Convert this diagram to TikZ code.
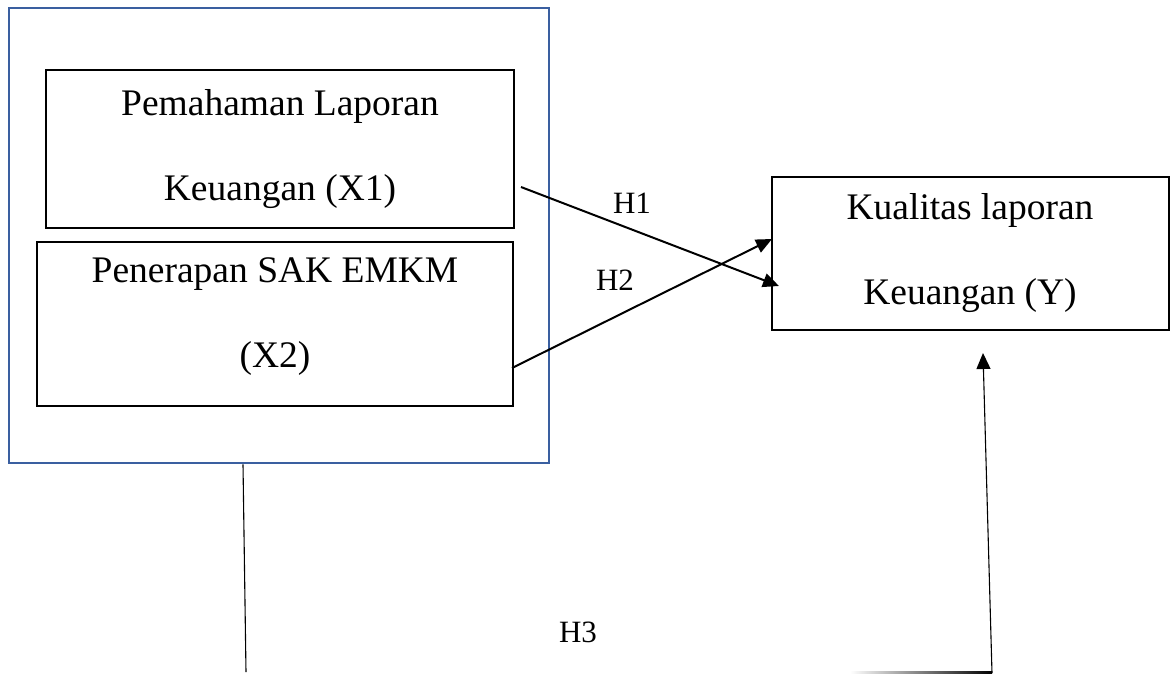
\documentclass[tikz,border=0pt]{standalone}
\usepackage{fontspec}
\setmainfont{Liberation Serif}
\usetikzlibrary{arrows.meta}
\definecolor{frameblue}{HTML}{3A5FA0}
\tikzset{
  varbox/.style={draw=black, line width=2pt, inner sep=0pt, align=center,
    font=\fontsize{37.5}{85}\selectfont},
  hlabel/.style={inner sep=0pt, font=\fontsize{31}{34}\selectfont},
  conn/.style={line width=2pt, -{Triangle[length=16pt,width=14pt]}},
  thinline/.style={line width=1.1pt}
}
\begin{document}
\begin{tikzpicture}[x=1pt,y=-1pt]
\useasboundingbox (0,0) rectangle (1171,675);
% outer frame
\node[draw=frameblue, line width=2.6pt, minimum width=540pt, minimum height=455pt, inner sep=0pt] (outer) at (279,235.5) {};
% boxes
\node[varbox, minimum width=468pt, minimum height=158pt] (x1) at (280,149) {Pemahaman Laporan\\Keuangan (X1)};
\node[varbox, minimum width=476pt, minimum height=164pt] (x2) at (275,324) {Penerapan SAK EMKM\\(X2)\\[-63pt]\mbox{}};
\node[varbox, minimum width=397pt, minimum height=153pt] (y) at (970,253.5) {Kualitas laporan\\Keuangan (Y)};
% labels
\node[hlabel] (h1) at (632,203) {H1};
\node[hlabel] (h2) at (615,280) {H2};
\node[hlabel] (h3) at (578,632) {H3};
% connector ends
\coordinate (a1s) at (521,187);
\coordinate (a1e) at (779,286);
\coordinate (a2s) at (512,368);
\coordinate (a2e) at (772,239);
\draw[conn] (a1s) -- (a1e);
\draw[conn] (a2s) -- (a2e);
% H3 path
\path (outer.south) ++(-36,0) coordinate (v1s);
\coordinate (v1e) at (246,672);
\draw[thinline] (v1s) -- (v1e);
\coordinate (hs) at (850,672);
\coordinate (he) at (992,673);
\shade[left color=white, right color=black] (850,671) rectangle (992,673);
\coordinate (ye) at (983,353);
\draw[thinline, -{Triangle[length=16pt,width=14pt]}] (he) -- (ye);
\end{tikzpicture}
\end{document}
